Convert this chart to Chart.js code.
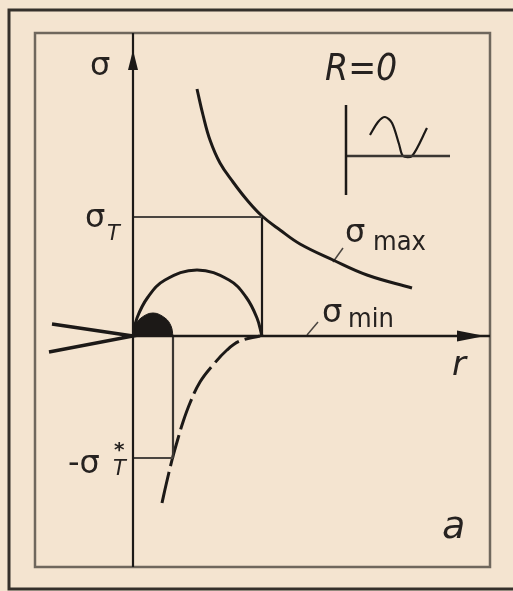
<!DOCTYPE html>
<html>
<head>
<meta charset="utf-8">
<script src="https://cdn.jsdelivr.net/npm/chart.js@4"></script>
<style>
  html, body { margin: 0; padding: 0; background: #f4e4d0; overflow: hidden; }
  canvas { display: block; }
</style>
</head>
<body>
<canvas id="fatigueChart" width="513" height="591"></canvas>
<script>
// plot window in drawing units (r across, sigma up)
const rRange = [-9.8, 35.7];
const sigmaRange = [-23.1, 30.3];

const sigmaT = 11.9;       // yield level
const sigmaTStar = -12.2;  // compressive level
const rT = 12.9;           // where the arch meets the axis
const rStar = 4.0;         // edge of the dark cap

// sigma_max branch
const maxR = [6.4, 7.0, 7.7, 8.7, 10.0, 11.4, 12.9, 14.7, 16.7, 20.0, 23.4, 27.9];
const maxS = [24.7, 22.1, 19.6, 17.3, 15.4, 13.6, 12.0, 10.6, 9.2, 7.6, 6.1, 4.8];

// sigma_min branch, dashed
const minR = [2.9, 3.3, 3.9, 4.4, 5.0, 5.7, 6.7, 8.0, 9.4, 10.7, 12.7];
const minS = [-16.7, -14.9, -12.4, -10.6, -8.6, -6.7, -4.6, -2.9, -1.4, -0.5, 0];

// arch
const archR = [0, 0.4, 1.5, 3.2, 6.4, 9.6, 11.3, 12.4, 12.9];
const archS = [0, 1.8, 3.9, 5.6, 6.6, 5.6, 3.9, 1.8, 0];

// solid cap at the origin
const capR = [0, 0.2, 0.8, 2.0, 3.2, 3.8, 4.0];
const capS = [0, 1.0, 1.8, 2.3, 1.8, 1.0, 0];

// wedge left of the origin
const wedgeR = [-8.1, 0, -8.4];
const wedgeS = [1.2, 0, -1.6];

// little R = 0 cycle sketch
const sketchAxisR = [21.3, 21.3];
const sketchAxisS = [14.1, 23.1];
const sketchBaseR = [21.3, 31.7];
const sketchBaseS = [18.0, 18.0];
const waveR = [23.7, 24.5, 25.2, 25.9, 26.6, 27.0, 27.9, 29.4];
const waveS = [20.1, 21.4, 21.9, 21.3, 19.2, 18.0, 18.0, 20.8];

// leader ticks for the curve names
const maxLeaderR = [20.0, 21.0];
const maxLeaderS = [7.4, 8.8];
const minLeaderR = [17.4, 18.5];
const minLeaderS = [0.1, 1.4];

const ink = '#1c1917';
const pts = (xs, ys) => xs.map((x, i) => ({ x: x, y: ys[i] }));

function line(data, opts) {
    return Object.assign({
        data: data,
        showLine: true,
        borderColor: ink,
        borderWidth: 2.5,
        pointRadius: 0,
        tension: 0,
        fill: false
    }, opts || {});
}

const datasets = [
    // axes
    line(pts([0, 0], sigmaRange), { borderWidth: 2.2 }),
    line(pts([0, rRange[1]], [0, 0]), { borderWidth: 2.5 }),
    // yield box
    line(pts([0, rT], [sigmaT, sigmaT]), { borderColor: '#4a4540', borderWidth: 2 }),
    line(pts([rT, rT], [0, sigmaT]), { borderWidth: 2.2 }),
    // compressive marker
    line(pts([0, rStar], [sigmaTStar, sigmaTStar]), { borderColor: '#4a4540', borderWidth: 2 }),
    line(pts([rStar, rStar], [0, sigmaTStar]), { borderColor: '#3a3632', borderWidth: 2.2 }),
    // curves
    line(pts(maxR, maxS), { tension: 0.4, borderWidth: 3 }),
    line(pts(minR, minS), { tension: 0.4, borderWidth: 3, borderDash: [32, 6] }),
    line(pts(archR, archS), { tension: 0.4, borderWidth: 3 }),
    line(pts(capR, capS), { tension: 0.4, borderWidth: 1, backgroundColor: ink, fill: 'origin' }),
    line(pts(wedgeR, wedgeS), { borderWidth: 3.5 }),
    // cycle sketch
    line(pts(sketchAxisR, sketchAxisS), { borderWidth: 2.5 }),
    line(pts(sketchBaseR, sketchBaseS), { borderColor: '#3a3632', borderWidth: 2.5 }),
    line(pts(waveR, waveS), { tension: 0.3, borderWidth: 2.2 }),
    // leaders
    line(pts(maxLeaderR, maxLeaderS), { borderColor: '#4a4540', borderWidth: 1.5 }),
    line(pts(minLeaderR, minLeaderS), { borderColor: '#4a4540', borderWidth: 1.5 })
];

// text pieces: [text, r, sigma, font]
const sigmaFont = '32px "DejaVu Sans"';
const subFont = 'italic 21px "DejaVu Sans"';
const wordFont = '27px "DejaVu Sans Condensed"';
const labels = [
    ['σ', -4.3, 26.1, sigmaFont],
    ['σ', -4.8, 10.9, sigmaFont],
    ['T', -2.6, 9.6, subFont],
    ['-σ', -6.5, -13.7, sigmaFont],
    ['*', -1.9, -12.0, 'bold 20px "DejaVu Sans"'],
    ['T', -2.0, -13.9, subFont],
    ['σ', 21.2, 9.4, sigmaFont],
    ['max', 24.0, 8.6, wordFont],
    ['σ', 18.9, 1.4, sigmaFont],
    ['min', 21.5, 0.9, wordFont],
    ['r', 31.9, -3.9, 'italic 34px "DejaVu Sans"'],
    ['a', 30.9, -20.2, 'italic 38px "DejaVu Sans"'],
    ['R=0', 19.2, 25.6, 'italic 37px "DejaVu Sans Condensed"']
];

const paper = {
    id: 'paper',
    beforeDraw(chart) {
        const { ctx, width, height, chartArea: a } = chart;
        ctx.save();
        ctx.fillStyle = '#f4e4d0';
        ctx.fillRect(0, 0, width, height);
        // sheet border, open on the right
        ctx.strokeStyle = '#35302b';
        ctx.lineWidth = 3;
        ctx.beginPath();
        ctx.moveTo(width + 10, 10);
        ctx.lineTo(9, 10);
        ctx.lineTo(9, 589);
        ctx.lineTo(width + 10, 589);
        ctx.stroke();
        // plot frame
        ctx.strokeStyle = '#6f675d';
        ctx.lineWidth = 2.5;
        ctx.strokeRect(a.left, a.top, a.right - a.left, a.bottom - a.top);
        ctx.restore();
    },
    afterDatasetsDraw(chart) {
        const { ctx, scales: { x, y } } = chart;
        ctx.save();
        ctx.fillStyle = ink;

        // arrow on sigma axis
        const ax = x.getPixelForValue(0);
        ctx.beginPath();
        ctx.moveTo(ax, y.getPixelForValue(28.6));
        ctx.lineTo(ax - 5, y.getPixelForValue(26.6));
        ctx.lineTo(ax + 5, y.getPixelForValue(26.6));
        ctx.closePath();
        ctx.fill();

        // arrow on r axis
        const ay = y.getPixelForValue(0);
        ctx.beginPath();
        ctx.moveTo(x.getPixelForValue(35.2), ay);
        ctx.lineTo(x.getPixelForValue(32.4), ay - 5.5);
        ctx.lineTo(x.getPixelForValue(32.4), ay + 5.5);
        ctx.closePath();
        ctx.fill();

        ctx.fillStyle = '#262220';
        ctx.textAlign = 'left';
        ctx.textBaseline = 'alphabetic';
        labels.forEach(([text, r, s, font]) => {
            ctx.font = font;
            ctx.fillText(text, x.getPixelForValue(r), y.getPixelForValue(s));
        });
        ctx.restore();
    }
};

new Chart(document.getElementById('fatigueChart'), {
    type: 'scatter',
    data: { datasets: datasets },
    options: {
        responsive: false,
        animation: false,
        events: [],
        layout: { padding: { left: 35, right: 23, top: 33, bottom: 24 } },
        plugins: {
            legend: { display: false },
            tooltip: { enabled: false }
        },
        scales: {
            x: { type: 'linear', display: false, min: rRange[0], max: rRange[1] },
            y: { type: 'linear', display: false, min: sigmaRange[0], max: sigmaRange[1] }
        }
    },
    plugins: [paper]
});
</script>
</body>
</html>
